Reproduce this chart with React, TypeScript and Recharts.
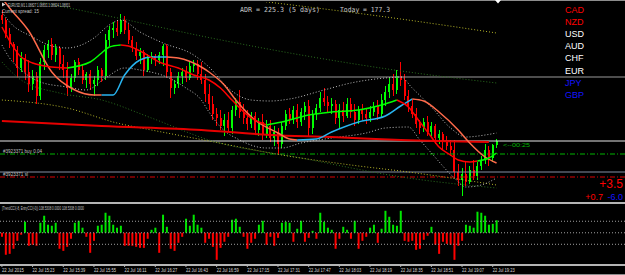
import { ComposedChart, Bar, Line, XAxis, YAxis, ReferenceLine, Cell } from "recharts";

// EURUSD candles, one per 2 minutes, 15:07 .. 19:25
const opens = [
  1.08957, 1.08952, 1.08938, 1.08928, 1.08922, 1.08904, 1.08914, 1.089, 1.08888, 1.08896,
  1.08876, 1.0891, 1.08922, 1.08928, 1.08917, 1.08924, 1.08908, 1.08902, 1.08884, 1.08894,
  1.0891, 1.08902, 1.08892, 1.08898, 1.08888, 1.08892, 1.08902, 1.08896, 1.08932, 1.08942,
  1.08944, 1.0894, 1.08952, 1.08942, 1.08932, 1.08924, 1.08916, 1.0892, 1.08902, 1.08914,
  1.08916, 1.08912, 1.08917, 1.08926, 1.089, 1.08884, 1.08888, 1.08896, 1.089, 1.08894,
  1.08906, 1.08908, 1.08898, 1.08892, 1.08878, 1.08868, 1.08858, 1.08854, 1.08846, 1.08852,
  1.08844, 1.08862, 1.0887, 1.0886, 1.08854, 1.08848, 1.08856, 1.08842, 1.0885, 1.08838,
  1.08846, 1.08834, 1.0884, 1.08828, 1.08846, 1.08858, 1.08852, 1.08862, 1.0885, 1.0886,
  1.08866, 1.08844, 1.08858, 1.08864, 1.08874, 1.0887, 1.08866, 1.08868, 1.08854, 1.08862,
  1.08856, 1.08868, 1.0886, 1.08852, 1.08862, 1.08858, 1.08854, 1.0886, 1.08866, 1.08858,
  1.08872, 1.0888, 1.08888, 1.08882, 1.08896, 1.08892, 1.08876, 1.08866, 1.08858, 1.08848,
  1.08844, 1.0885, 1.0884, 1.08846, 1.08834, 1.08838, 1.0883, 1.08826, 1.08822, 1.088,
  1.08792, 1.08798, 1.0879, 1.08802, 1.08796, 1.08806, 1.08812, 1.08822, 1.08814, 1.08827,
];
const highs = [
  1.08962, 1.08954, 1.08944, 1.0893, 1.08926, 1.0892, 1.08918, 1.08912, 1.08902, 1.089,
  1.08914, 1.08927, 1.08932, 1.08934, 1.08928, 1.08926, 1.08917, 1.0891, 1.08898, 1.08912,
  1.08914, 1.08908, 1.089, 1.08902, 1.08896, 1.08906, 1.08904, 1.08938, 1.08946, 1.0895,
  1.08952, 1.08958, 1.08956, 1.08948, 1.08936, 1.0893, 1.08924, 1.08922, 1.08918, 1.0892,
  1.08918, 1.0892, 1.08928, 1.08928, 1.08904, 1.08892, 1.089, 1.08904, 1.08906, 1.0891,
  1.08912, 1.08912, 1.0891, 1.08898, 1.08888, 1.08876, 1.08864, 1.08862, 1.08858, 1.0886,
  1.08866, 1.08874, 1.08882, 1.08868, 1.08862, 1.0886, 1.0886, 1.08854, 1.08858, 1.08852,
  1.08852, 1.08846, 1.08844, 1.0885, 1.08862, 1.08864, 1.08866, 1.08868, 1.08864, 1.0887,
  1.08872, 1.08862, 1.08868, 1.0888, 1.08884, 1.08876, 1.08874, 1.08872, 1.08868, 1.0887,
  1.08874, 1.08874, 1.08868, 1.08866, 1.08868, 1.08864, 1.08866, 1.0887, 1.08872, 1.08878,
  1.08886, 1.08894, 1.08898, 1.08902, 1.0891, 1.08898, 1.08882, 1.08872, 1.08864, 1.08852,
  1.08854, 1.08856, 1.0885, 1.08848, 1.08842, 1.0884, 1.08836, 1.08832, 1.08832, 1.08808,
  1.08804, 1.0881, 1.08806, 1.08812, 1.0881, 1.08816, 1.08828, 1.08826, 1.08828, 1.08833,
];
const lows = [
  1.08948, 1.08934, 1.08924, 1.0891, 1.08894, 1.089, 1.08892, 1.0888, 1.08882, 1.08868,
  1.08872, 1.08902, 1.08914, 1.08912, 1.0891, 1.08902, 1.08894, 1.08876, 1.0888, 1.0889,
  1.08897, 1.08888, 1.08884, 1.08882, 1.08876, 1.08886, 1.0889, 1.08892, 1.08926, 1.08934,
  1.08936, 1.08938, 1.08938, 1.08928, 1.0892, 1.08912, 1.08908, 1.08896, 1.089, 1.08908,
  1.08906, 1.08908, 1.08906, 1.08894, 1.08874, 1.08878, 1.08884, 1.08888, 1.0889, 1.08892,
  1.089, 1.08892, 1.08888, 1.0887, 1.08862, 1.08852, 1.08846, 1.08842, 1.08836, 1.0884,
  1.08838, 1.08856, 1.08854, 1.08848, 1.08842, 1.08844, 1.08838, 1.08836, 1.08832, 1.08834,
  1.0883, 1.08826, 1.08818, 1.08824, 1.08842, 1.08848, 1.08848, 1.08844, 1.08846, 1.08852,
  1.08836, 1.08838, 1.08852, 1.0886, 1.08866, 1.0886, 1.08858, 1.08848, 1.08844, 1.0885,
  1.08854, 1.08854, 1.08846, 1.08848, 1.08852, 1.08848, 1.0885, 1.08856, 1.08852, 1.08854,
  1.08866, 1.08874, 1.08876, 1.08878, 1.08886, 1.08872, 1.0886, 1.08854, 1.08844, 1.08838,
  1.0884, 1.08836, 1.08836, 1.08828, 1.08828, 1.08822, 1.08822, 1.08816, 1.08794, 1.08786,
  1.08776, 1.08786, 1.08788, 1.08792, 1.08792, 1.08802, 1.08808, 1.08806, 1.0881, 1.08824,
];
const closes = [
  1.08952, 1.08938, 1.08928, 1.08922, 1.08904, 1.08914, 1.089, 1.08888, 1.08896, 1.08876,
  1.0891, 1.08922, 1.08928, 1.08917, 1.08924, 1.08908, 1.08902, 1.08884, 1.08894, 1.0891,
  1.08902, 1.08892, 1.08898, 1.08888, 1.08892, 1.08902, 1.08896, 1.08932, 1.08942, 1.08944,
  1.0894, 1.08952, 1.08942, 1.08932, 1.08924, 1.08916, 1.0892, 1.08902, 1.08914, 1.08916,
  1.08912, 1.08917, 1.08926, 1.089, 1.08884, 1.08888, 1.08896, 1.089, 1.08894, 1.08906,
  1.08908, 1.08898, 1.08892, 1.08878, 1.08868, 1.08858, 1.08854, 1.08846, 1.08852, 1.08844,
  1.08862, 1.0887, 1.0886, 1.08854, 1.08848, 1.08856, 1.08842, 1.0885, 1.08838, 1.08846,
  1.08834, 1.0884, 1.08828, 1.08846, 1.08858, 1.08852, 1.08862, 1.0885, 1.0886, 1.08866,
  1.08844, 1.08858, 1.08864, 1.08874, 1.0887, 1.08866, 1.08868, 1.08854, 1.08862, 1.08856,
  1.08868, 1.0886, 1.08852, 1.08862, 1.08858, 1.08854, 1.0886, 1.08866, 1.08858, 1.08872,
  1.0888, 1.08888, 1.08882, 1.08896, 1.08892, 1.08876, 1.08866, 1.08858, 1.08848, 1.08844,
  1.0885, 1.0884, 1.08846, 1.08834, 1.08838, 1.0883, 1.08826, 1.08822, 1.088, 1.08792,
  1.08798, 1.0879, 1.08802, 1.08796, 1.08806, 1.08812, 1.08822, 1.08814, 1.08827, 1.08831,
];

// TrendCCI histogram, same bars
const cciValues = [
  -35, -191, -183, -139, -70, -17, 96, -113, -104, -113,
  87, 148, 70, 61, 87, -139, -157, -122, -52, 87,
  104, 44, -35, -174, -70, 61, 70, 174, 148, 70,
  44, 61, -113, -113, -113, -122, -131, -131, -52, 26,
  44, -174, 157, 52, -139, -157, -87, -35, 122, 61,
  157, 70, 44, -87, -52, -122, -235, -131, -78, -35,
  113, 122, 52, -35, -139, -87, -52, 70, 104, -104,
  -35, -113, -44, 87, 96, 87, -78, 35, 104, -78,
  -44, 17, -52, 174, 96, 44, 26, -139, -52, 52,
  26, -52, 104, -139, -70, -35, 44, 70, -87, 35,
  191, 139, 70, 61, 191, -70, -78, -70, -148, -139,
  -61, -26, 52, -104, -183, -78, -96, -104, -235, -113,
  -70, 70, 61, 44, 183, 174, 148, 70, 78, 108.53,
];

const timeLabels = [
  "22 Jul 2015", "22 Jul 15:23", "22 Jul 15:39", "22 Jul 15:55", "22 Jul 16:11",
  "22 Jul 16:27", "22 Jul 16:43", "22 Jul 16:59", "22 Jul 17:15", "22 Jul 17:31",
  "22 Jul 17:47", "22 Jul 18:03", "22 Jul 18:19", "22 Jul 18:35", "22 Jul 18:51",
  "22 Jul 19:07", "22 Jul 19:23",
];

// indicator lines as [bar index, price]; split where the colour flips
const signalDown1 = [[0, 1.08945], [5, 1.08915], [8, 1.08909], [13, 1.08905], [17, 1.08904]];
const signalUp1 = [[17, 1.08904], [23, 1.0891], [26, 1.08919], [28, 1.08925], [31, 1.08927]];
const signalDown2 = [[31, 1.08927], [33, 1.08926], [37, 1.08919], [41, 1.0891], [46, 1.08904], [50, 1.08897], [54, 1.08892], [57, 1.08884], [60, 1.08872], [65, 1.08854], [69, 1.08847]];
const signalUp2 = [[69, 1.08847], [73, 1.0885], [80, 1.08857], [86, 1.0886], [93, 1.08862], [99, 1.08867], [103, 1.08872]];
const signalDown3 = [[103, 1.08872], [106, 1.08865], [109, 1.0885], [112, 1.08835], [114, 1.08825], [117, 1.08817], [119, 1.08812], [122, 1.0881], [124, 1.08811]];
const signalUp3 = [[124, 1.08811], [127, 1.08814], [129, 1.08819]];

const fastDown1 = [[0, 1.08974], [2, 1.08964], [7, 1.08941], [13, 1.089], [19, 1.08882], [24, 1.08877], [26, 1.08877]];
const fastUp1 = [[26, 1.08877], [29, 1.08877], [32, 1.08897], [36, 1.08912], [39, 1.08915], [43, 1.08915]];
const fastDown2 = [[43, 1.08915], [46, 1.08914], [52, 1.08905], [54, 1.089], [58, 1.08887], [61, 1.08872], [66, 1.08852], [72, 1.08839], [75, 1.08833], [77, 1.08832]];
const fastUp2 = [[77, 1.08832], [82, 1.08833], [86, 1.0884], [93, 1.0885], [100, 1.08856], [104, 1.08866], [107, 1.08873]];
const fastDown3 = [[107, 1.08873], [110, 1.08871], [114, 1.0886], [119, 1.08842], [122, 1.08829], [126, 1.08815], [129, 1.08809]];

const slowMa = [[0, 1.08851], [26, 1.08846], [52, 1.08842], [70, 1.08837], [86, 1.08835], [104, 1.08832], [127, 1.0883]];

const upperBand = [[0, 1.0896], [2, 1.0895], [8, 1.08935], [13, 1.08926], [17, 1.08924], [20, 1.08926], [24, 1.08934], [28, 1.08947], [31, 1.08952], [36, 1.0894], [42, 1.08929], [50, 1.08917], [54, 1.08905], [59, 1.08884], [65, 1.08872], [70, 1.08871], [75, 1.08873], [84, 1.08882], [91, 1.08889], [100, 1.08894], [104, 1.08895], [107, 1.08884], [112, 1.08865], [117, 1.08844], [121, 1.08835], [126, 1.08837], [129, 1.08839]];
const lowerBand = [[0, 1.08927], [2, 1.08914], [5, 1.08902], [10, 1.0889], [17, 1.08885], [22, 1.08882], [27, 1.08894], [32, 1.08904], [36, 1.08902], [43, 1.08895], [48, 1.08884], [52, 1.08872], [54, 1.0886], [57, 1.08845], [62, 1.08832], [69, 1.08824], [73, 1.08824], [78, 1.08829], [86, 1.08834], [95, 1.08839], [100, 1.08844], [106, 1.08845], [109, 1.08832], [112, 1.08819], [118, 1.08794], [121, 1.08785], [125, 1.08787], [129, 1.08794]];

const channelUpperY = [[65, 1.08972], [104, 1.08953], [129, 1.08939]];
const channelUpperG = [[7, 1.08972], [29, 1.08955], [52, 1.08936], [78, 1.08917], [106, 1.089], [129, 1.08889]];
const channelLowerY = [[0, 1.08872], [17, 1.08864], [30, 1.08849], [39, 1.08842], [54, 1.08831], [73, 1.08817], [91, 1.08807], [106, 1.088], [129, 1.08787]];
const channelLowerG = [[0, 1.0891], [5, 1.08892], [15, 1.08879], [26, 1.08872], [39, 1.08854], [54, 1.08832], [78, 1.08814], [106, 1.08794], [129, 1.08784]];

// horizontal levels
const levelTop = 1.08895;
const bidPrice = 1.08831;
const buyPrice = 1.08818;
const levelMid = 1.088;
const stopLoss = 1.08795;

const currencies = ["CAD", "NZD", "USD", "AUD", "CHF", "EUR", "JPY", "GBP"];

const candles = opens.map((open, i) => ({
  i,
  open,
  high: highs[i],
  low: lows[i],
  close: closes[i],
  range: [lows[i], highs[i]],
}));
const cci = cciValues.map((v, i) => ({ i, v }));
const timeTicks = timeLabels.map((_, k) => k * 8);
const toPts = (pairs: number[][]) => pairs.map(([i, v]) => ({ i, v }));

const X_DOMAIN = [-0.5, 162.5];
const FONT = "Liberation Sans, Arial, sans-serif";
const currencyColors: Record<string, string> = { CAD: "#ff0000", NZD: "#ff0000", JPY: "#1414ff", GBP: "#1414ff" };

const Candle = (props: any) => {
  const { x, y, width, height, payload } = props;
  const { open, close, high, low } = payload;
  const color = close >= open ? "#00ff00" : "#ff0000";
  const k = high === low ? 0 : height / (high - low);
  const top = y + (high - Math.max(open, close)) * k;
  const bot = y + (high - Math.min(open, close)) * k;
  const cx = x + width / 2;
  return (
    <g shapeRendering="crispEdges">
      <line x1={cx} x2={cx} y1={y} y2={y + height} stroke={color} strokeWidth={1} />
      <rect x={cx - 1} y={top} width={2} height={Math.max(1, bot - top)} fill={color} />
    </g>
  );
};

const TimeTick = (props: any) => {
  const { x, y, payload } = props;
  return (
    <text x={x} y={y + 3} fill="#d8d8d8" fontSize={5} fontFamily={FONT} textLength={22} lengthAdjust="spacingAndGlyphs">
      {timeLabels[Math.round(payload.value / 8)]}
    </text>
  );
};

function seg(key: string, pairs: number[][], color: string, width: number, dash?: string) {
  return (
    <Line
      key={key}
      data={toPts(pairs)}
      dataKey="v"
      type="monotone"
      stroke={color}
      strokeWidth={width}
      strokeDasharray={dash}
      dot={false}
      activeDot={false}
      isAnimationActive={false}
    />
  );
}

export default function App() {
  return (
    <div style={{ position: "absolute", left: 0, top: 0, width: 625, height: 275, background: "#000", overflow: "hidden" }}>
      <div style={{ position: "absolute", left: 0, top: 0 }}>
        <ComposedChart width={625} height={202} data={candles} margin={{ top: 2, right: 0, bottom: 1, left: 0 }}>
          <XAxis dataKey="i" type="number" domain={X_DOMAIN} allowDataOverflow hide />
          <YAxis type="number" domain={[1.08771, 1.0897]} allowDataOverflow hide />
          <ReferenceLine y={levelTop} stroke="#9a9a9a" />
          <ReferenceLine y={bidPrice} stroke="#e6e6e6" />
          <ReferenceLine y={buyPrice} stroke="#00b400" strokeDasharray="5 2 1 2" />
          <ReferenceLine y={levelMid} stroke="#8490a4" />
          <ReferenceLine y={stopLoss} stroke="#dc0000" strokeDasharray="5 2 1 2" />
          {seg("chY1", channelUpperY, "#b4b428", 1, "1 2")}
          {seg("chG1", channelUpperG, "#2a6e1e", 1, "1 2")}
          {seg("chY2", channelLowerY, "#b4b428", 1, "1 2")}
          {seg("chG2", channelLowerG, "#2a6e1e", 1, "1 2")}
          {seg("bandU", upperBand, "#bdbdbd", 1, "1 2")}
          {seg("bandL", lowerBand, "#bdbdbd", 1, "1 2")}
          {seg("slow", slowMa, "#e60000", 2)}
          <Bar dataKey="range" barSize={2} isAnimationActive={false} shape={(p: any) => <Candle {...p} />} />
          {seg("fd1", fastDown1, "#ff6a4a", 1.5)}
          {seg("fu1", fastUp1, "#28b4f0", 1.5)}
          {seg("fd2", fastDown2, "#ff6a4a", 1.5)}
          {seg("fu2", fastUp2, "#28b4f0", 1.5)}
          {seg("fd3", fastDown3, "#ff6a4a", 1.5)}
          {seg("sd1", signalDown1, "#ff0000", 1.5)}
          {seg("su1", signalUp1, "#00ff00", 1.5)}
          {seg("sd2", signalDown2, "#ff0000", 1.5)}
          {seg("su2", signalUp2, "#00ff00", 1.5)}
          {seg("sd3", signalDown3, "#ff0000", 1.5)}
          {seg("su3", signalUp3, "#00ff00", 1.5)}
        </ComposedChart>
      </div>

      <div style={{ position: "absolute", left: 0, top: 204 }}>
        <ComposedChart width={625} height={71} data={cci} margin={{ top: 0, right: 0, bottom: 0, left: 0 }}>
          <XAxis
            dataKey="i"
            type="number"
            domain={X_DOMAIN}
            allowDataOverflow
            ticks={timeTicks}
            interval={0}
            height={10}
            tickSize={2}
            axisLine={{ stroke: "#b4b4b4", strokeWidth: 2 }}
            tickLine={{ stroke: "#b4b4b4" }}
            tick={<TimeTick />}
          />
          <YAxis type="number" domain={[-280, 250]} allowDataOverflow hide />
          <ReferenceLine y={100} stroke="#a0a0a0" strokeDasharray="1 2" />
          <ReferenceLine y={0} stroke="#a0a0a0" strokeDasharray="1 2" />
          <ReferenceLine y={-100} stroke="#a0a0a0" strokeDasharray="1 2" />
          <Bar dataKey="v" barSize={2} isAnimationActive={false}>
            {cci.map((d) => (
              <Cell key={d.i} fill={d.v >= 0 ? "#00e600" : "#ff0000"} />
            ))}
          </Bar>
        </ComposedChart>
      </div>

      <svg width={625} height={275} style={{ position: "absolute", left: 0, top: 0, pointerEvents: "none" }}>
        <rect x={0} y={0} width={625} height={1} fill="#8c8c8c" />
        <rect x={0} y={202} width={625} height={2} fill="#b4b4b4" />
        <rect x={0} y={274} width={625} height={1} fill="#8c8c8c" />
        <polygon points="495,0 501,0 498,3.5" fill="#ffffff" />
        <polygon points="2,2.5 5.5,4.5 2,6.5" fill="#d0d0d0" />

        <text x={8} y={7} fill="#c8c8c8" fontSize={5} fontFamily={FONT} textLength={62} lengthAdjust="spacingAndGlyphs">
          EURUSD,M1 1.08827 1.08831 1.08824 1.08831
        </text>
        <text x={2} y={13} fill="#c8c8c8" fontSize={5} fontFamily={FONT} textLength={37} lengthAdjust="spacingAndGlyphs">
          Current spread: 15
        </text>

        <text x={240} y={12} fill="#c8c8c8" fontSize={7} fontFamily="DejaVu Sans Mono, monospace" textLength={80} lengthAdjust="spacingAndGlyphs">
          ADR = 225.3  (5 days)
        </text>
        <text x={340} y={12} fill="#c8c8c8" fontSize={7} fontFamily="DejaVu Sans Mono, monospace" textLength={50} lengthAdjust="spacingAndGlyphs">
          Today = 177.3
        </text>

        {currencies.map((c, k) => (
          <text key={c} x={565} y={13 + k * 12.1} fill={currencyColors[c] ?? "#ffffff"} fontSize={9} fontFamily={FONT}>
            {c}
          </text>
        ))}

        <text x={3} y={153} fill="#c0c0c0" fontSize={5} fontFamily={FONT} textLength={39} lengthAdjust="spacingAndGlyphs">
          #3923371 buy 0.04
        </text>
        <text x={3} y={176} fill="#c0c0c0" fontSize={5} fontFamily={FONT} textLength={25} lengthAdjust="spacingAndGlyphs">
          #3923371 sl
        </text>
        <text x={503} y={147} fill="#00b400" fontSize={6} fontFamily={FONT} textLength={27} lengthAdjust="spacingAndGlyphs">
          {"<--00:25"}
        </text>

        <text x={623} y={188} fill="#ff0000" fontSize={12} fontFamily={FONT} textAnchor="end">
          +3.5
        </text>
        <text x={603} y={199.5} fill="#ff0000" fontSize={9} fontFamily={FONT} textAnchor="end">
          +0.7
        </text>
        <text x={623} y={199.5} fill="#1414ff" fontSize={9} fontFamily={FONT} textAnchor="end">
          -6.0
        </text>

        <text x={2} y={210} fill="#c8c8c8" fontSize={5} fontFamily={FONT} textLength={82} lengthAdjust="spacingAndGlyphs">
          [TrendCCI(-8, EntryCCI(-0)) 108.5308 0.0000 108.5308 0.0000
        </text>
      </svg>
    </div>
  );
}
